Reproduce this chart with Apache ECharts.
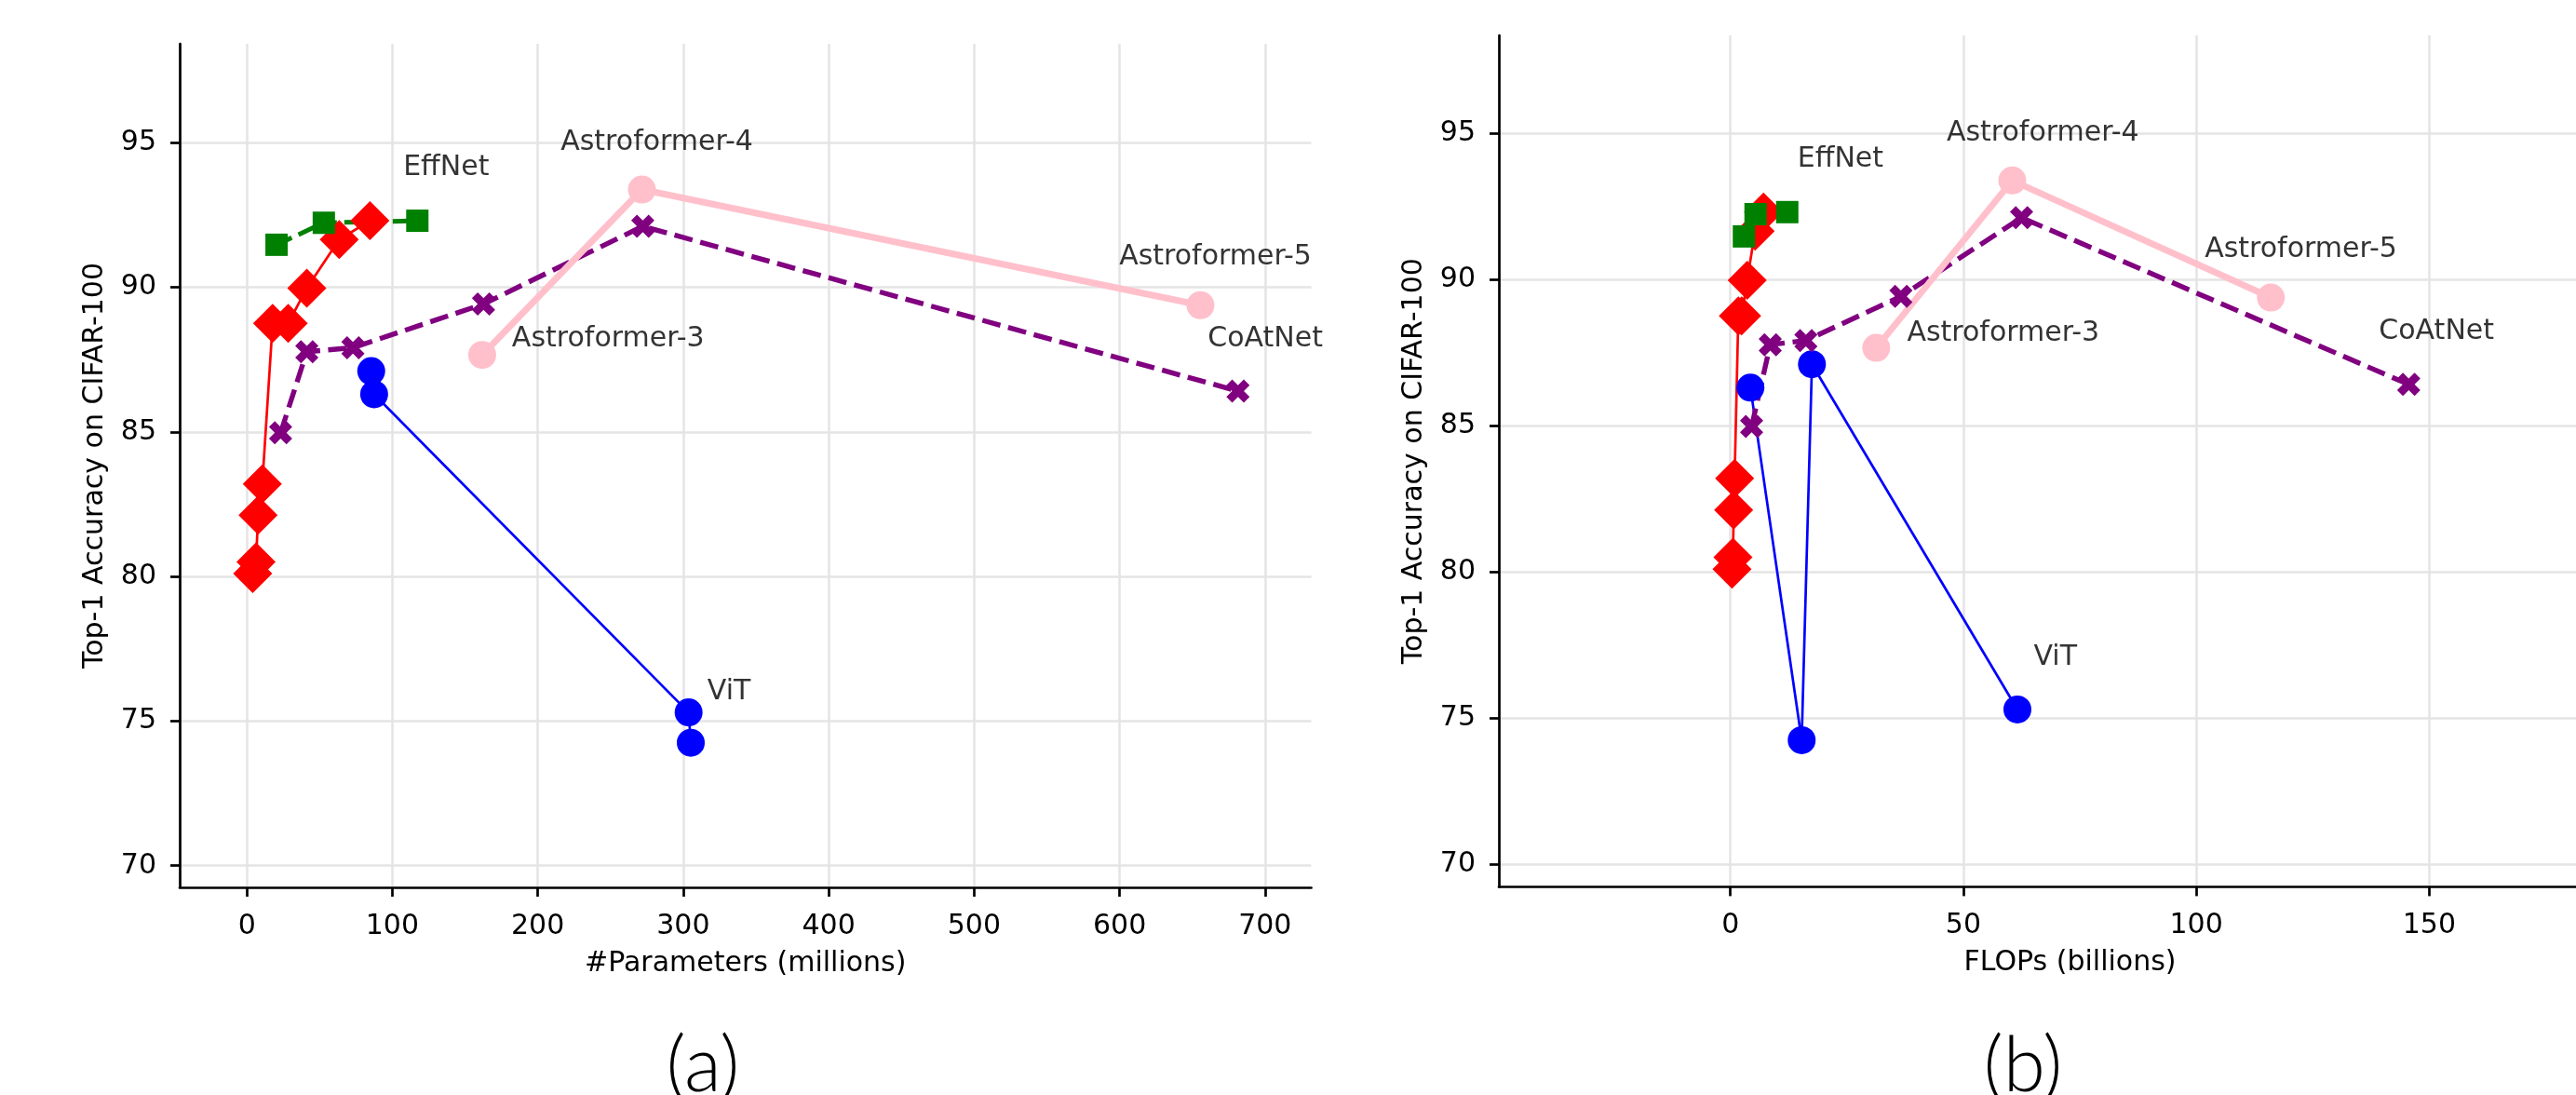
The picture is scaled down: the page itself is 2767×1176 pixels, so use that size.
<!DOCTYPE html>
<html>
<head>
<meta charset="utf-8">
<script src="https://cdn.jsdelivr.net/npm/echarts@6/dist/echarts.min.js"></script>
<style>
html, body { margin: 0; padding: 0; background: #fff; }
#chart { width: 2767px; height: 1176px; }
</style>
</head>
<body>
<div id="chart"></div>
<script>
// values: params in millions, FLOPs in billions, top-1 acc in %
const effParams = [4.0, 6.3, 7.7, 10.6, 17.7, 28.4, 41.2, 63.5, 84.6]
const effFlops = [0.35, 0.55, 0.7, 0.9, 1.7, 2.4, 3.6, 5.3, 7.1]
const effAcc = [80.1, 80.5, 82.12, 83.2, 88.75, 88.75, 89.97, 91.65, 92.3]

const greenParams = [20.4, 52.9, 117.2]
const greenFlops = [2.9, 5.4, 12.2]
const greenAcc = [91.47, 92.23, 92.3]

const vitParams = [85.5, 87.5, 303.7, 305.2]
const vitFlops = [17.5, 4.3, 61.6, 15.3]
const vitAcc = [87.1, 86.3, 75.3, 74.25]

const coatParams = [23.2, 41.2, 72.9, 162.7, 272.2, 681.4]
const coatFlops = [4.55, 8.55, 16.2, 36.6, 62.5, 145.6]
const coatAcc = [84.97, 87.77, 87.91, 89.42, 92.11, 86.41]

const astroParams = [161.8, 271.6, 655.6]
const astroFlops = [31.3, 60.5, 116.0]
const astroAcc = [87.66, 93.38, 89.38]

// text annotations, placed in data coords of each panel
const annoNames = ['EffNet', 'Astroformer-4', 'Astroformer-3', 'Astroformer-5', 'CoAtNet', 'ViT']
const annoA = [[107.2, 94.12], [215.4, 95.0], [181.9, 88.21], [599.4, 91.04], [660.3, 88.21], [316.3, 76.0]]
const annoB = [[14.3, 94.09], [46.3, 94.98], [37.8, 88.16], [101.7, 91.02], [139.1, 88.2], [65.0, 77.06]]

const paramTicks = [0, 100, 200, 300, 400, 500, 600, 700]
const flopTicks = [0, 50, 100, 150]
const accTicks = [70, 75, 80, 85, 90, 95]

const FONT = 'DejaVu Sans'
// filled "X" marker like matplotlib's
const X_PATH = 'path://M-1,-0.5 L-0.5,-1 L0,-0.5 L0.5,-1 L1,-0.5 L0.5,0 L1,0.5 L0.5,1 L0,0.5 L-0.5,1 L-1,0.5 L-0.5,0 Z'

// matplotlib joins the points in x order, so sort each panel's pairs
const pairs = (xs, ys) => xs.map((x, i) => [x, ys[i]]).sort((a, b) => a[0] - b[0])

const chart = echarts.init(document.getElementById('chart'))

const textStyle = { fontFamily: FONT, fontSize: 30, color: '#000' }

const makeX = (idx, name, min, max, ticks, shift) => ({
	type: 'value',
	gridIndex: idx,
	min: min,
	max: max,
	name: name,
	nameLocation: 'middle',
	nameGap: 67,
	nameMoveOverlap: false,
	// the right panel is cut off by the figure edge, so its title sits right of the visible middle
	nameTextStyle: Object.assign({ padding: [0, 0, 0, shift] }, textStyle),
	axisLine: { show: true, onZero: false, lineStyle: { color: '#000', width: 2.7 } },
	axisTick: { show: true, length: 10, customValues: ticks, lineStyle: { color: '#000', width: 2.7 } },
	axisLabel: Object.assign({ customValues: ticks, margin: 27 }, textStyle),
	splitLine: { show: true, lineStyle: { color: '#e4e4e4', width: 2.5 } }
})

const makeY = (idx, min, max) => ({
	type: 'value',
	gridIndex: idx,
	min: min,
	max: max,
	name: 'Top-1 Accuracy on CIFAR-100',
	nameLocation: 'middle',
	nameGap: 76,
	nameMoveOverlap: false,
	nameTextStyle: textStyle,
	axisLine: { show: true, onZero: false, lineStyle: { color: '#000', width: 2.7 } },
	axisTick: { show: true, length: 10, customValues: accTicks, lineStyle: { color: '#000', width: 2.7 } },
	axisLabel: Object.assign({ customValues: accTicks, margin: 25 }, textStyle),
	splitLine: { show: true, lineStyle: { color: '#e4e4e4', width: 2.5 } }
})

const series = []
const families = [
	{ px: effParams, fx: effFlops, acc: effAcc, color: '#ff0000', symbol: 'diamond', size: 42, width: 2.7, type: 'solid' },
	{ px: greenParams, fx: greenFlops, acc: greenAcc, color: '#008000', symbol: 'rect', size: 24, width: 5, type: [18, 8] },
	{ px: vitParams, fx: vitFlops, acc: vitAcc, color: '#0000ff', symbol: 'circle', size: 30, width: 2.7, type: 'solid' },
	{ px: coatParams, fx: coatFlops, acc: coatAcc, color: '#800080', symbol: X_PATH, size: 25, width: 5.4, type: [20, 8.6] },
	{ px: astroParams, fx: astroFlops, acc: astroAcc, color: '#ffc0cb', symbol: 'circle', size: 30, width: 7, type: 'solid' }
]

families.forEach(f => {
	[f.px, f.fx].forEach((xs, panel) => {
		series.push({
			type: 'line',
			xAxisIndex: panel,
			yAxisIndex: panel,
			data: pairs(xs, f.acc),
			symbol: f.symbol,
			symbolSize: f.size,
			showSymbol: true,
			itemStyle: { color: f.color },
			lineStyle: { color: f.color, width: f.width, type: f.type, join: 'round' },
			silent: true,
			emphasis: { disabled: true }
		})
	})
})

;[annoA, annoB].forEach((pts, panel) => {
	series.push({
		type: 'scatter',
		xAxisIndex: panel,
		yAxisIndex: panel,
		symbol: 'circle',
		symbolSize: 1,
		itemStyle: { color: 'rgba(0,0,0,0)' },
		data: pts.map((p, i) => ({ value: p, name: annoNames[i] })),
		label: Object.assign({ show: true, position: 'right', distance: 0, formatter: '{b}' }, textStyle),
		silent: true
	})
})

const option = {
	animation: false,
	backgroundColor: '#fff',
	grid: [
		{ left: 193, top: 47, width: 1215.5, height: 906 },
		{ left: 1610, top: 38, width: 1157, height: 914.4 }
	],
	xAxis: [
		makeX(0, '#Parameters (millions)', -46.2, 731.8, paramTicks, 0),
		makeX(1, 'FLOPs (billions)', -49.7, 181.5, flopTicks, 70)
	],
	yAxis: [
		makeY(0, 69.25, 98.42),
		makeY(1, 69.24, 98.34)
	],
	graphic: [
		{ type: 'text', x: 755, y: 1146, style: { text: '(a)', fontFamily: 'Lato', fontWeight: 300, fontSize: 82, fill: '#000', align: 'center', verticalAlign: 'middle' } },
		{ type: 'text', x: 2173, y: 1146, style: { text: '(b)', fontFamily: 'Lato', fontWeight: 300, fontSize: 82, fill: '#000', align: 'center', verticalAlign: 'middle' } }
	],
	series: series
}

chart.setOption(option)
</script>
</body>
</html>
